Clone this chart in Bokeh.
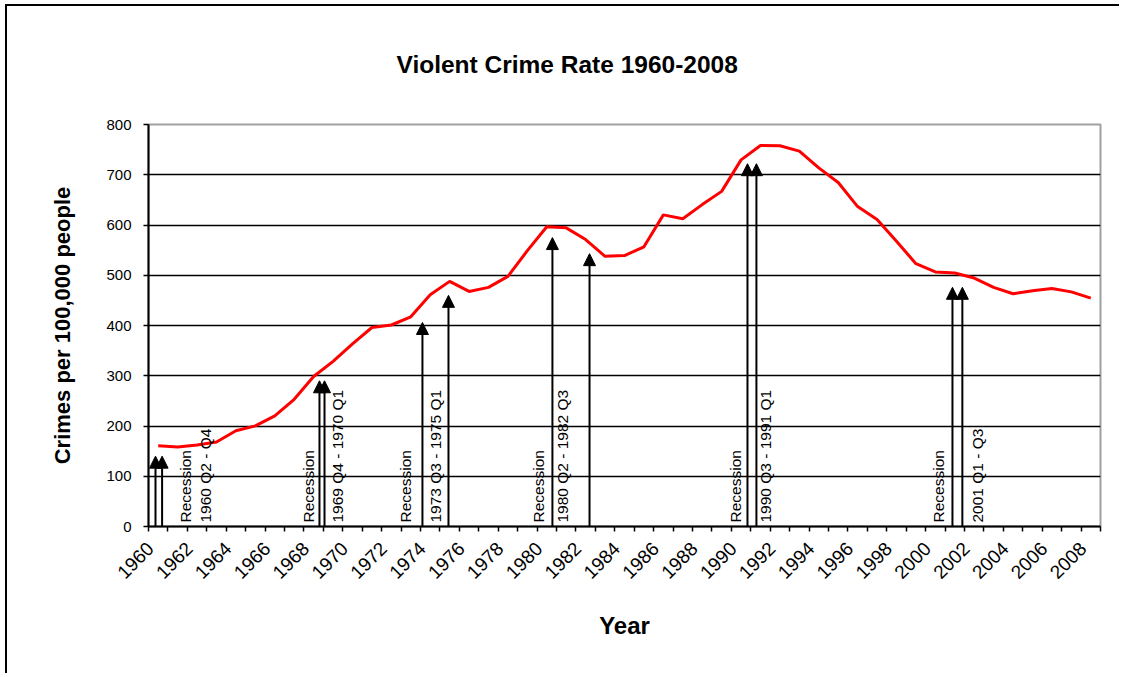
import math
from bokeh.plotting import figure
from bokeh.models import FixedTicker, Arrow, NormalHead, ColumnDataSource, Range1d, InlineStyleSheet
from bokeh.core.properties import value
from bokeh.embed import file_html
from bokeh.resources import INLINE

# ---- data ----
years = list(range(1960, 2009))
crime_rate = [160.9, 158.1, 162.3, 168.2, 190.6, 200.2, 220.0, 253.2, 298.4, 328.7,
              363.5, 396.0, 401.0, 417.4, 461.1, 487.8, 467.8, 475.9, 497.8, 548.9,
              596.6, 594.3, 571.1, 537.7, 539.2, 556.6, 620.1, 612.5, 640.6, 666.9,
              729.6, 758.2, 757.7, 747.1, 713.6, 684.5, 636.6, 611.0, 567.6, 523.0,
              506.5, 504.5, 494.4, 475.8, 463.2, 469.0, 473.6, 466.9, 454.5]
label_years = list(range(1960, 2009, 2))
year_tick_labels = [str(y) for y in label_years]

# recession arrows (fractional-year position, arrow tip value)
arrow_x = [1959.86, 1960.2, 1968.3, 1968.56, 1973.6, 1974.94,
           1980.29, 1982.2, 1990.33, 1990.79, 2000.88, 2001.39]
arrow_top = [140, 140, 290, 290, 406, 460, 575, 543, 722, 722, 476, 476]

# recession annotation texts
recession_word_x = [1961.40, 1967.73, 1972.73, 1979.57, 1989.71, 2000.16]
recession_range_x = [1962.43, 1969.23, 1974.27, 1980.81, 1991.25, 2002.17]
recession_ranges = ["1960 Q2 - Q4", "1969 Q4 - 1970 Q1", "1973 Q3 - 1975 Q1",
                    "1980 Q2 - 1982 Q3", "1990 Q3 - 1991 Q1", "2001 Q1 - Q3"]

FONT = "Liberation Sans"
LABEL_SHIFT = 0.4  # shift of rotated year labels (in years) so their ends sit like the original

p = figure(width=1114, height=669,
           x_range=Range1d(1959.5, 2008.5), y_range=Range1d(0, 800),
           output_backend="svg", toolbar_location=None,
           title="Violent Crime Rate 1960-2008",
           min_border_left=141, min_border_right=21,
           min_border_top=118, min_border_bottom=149)
p.stylesheets = [InlineStyleSheet(css=":host { border-top: 2px solid black; border-left: 2px solid black; margin-left: 5px; margin-top: 4px; }")]
p.background_fill_color = "white"
p.border_fill_color = "white"
p.outline_line_color = "#a0a0a0"
p.outline_line_width = 2

# title
p.title.text_font = FONT
p.title.text_font_size = "24.5px"
p.title.text_font_style = "bold"
p.title.text_color = "black"
p.title.align = "left"
p.title.offset = 248
p.title.vertical_align = "top"
p.title.standoff = 89

# grid
p.xgrid.visible = False
p.ygrid.ticker = FixedTicker(ticks=list(range(100, 800, 100)))
p.ygrid.grid_line_color = "black"
p.ygrid.grid_line_width = 1.5

# x axis
xa = p.xaxis[0]
tick_pos = [y - LABEL_SHIFT for y in label_years]
xa.ticker = FixedTicker(ticks=tick_pos, minor_ticks=[1959.5 + i for i in range(50)])
xa.major_label_overrides = {t: s for t, s in zip(tick_pos, year_tick_labels)}
xa.major_label_orientation = math.pi / 4
xa.major_tick_line_color = None
xa.major_tick_out = 0
xa.major_tick_in = 0
xa.minor_tick_line_color = "black"
xa.minor_tick_line_width = 1.5
xa.minor_tick_out = 5
xa.minor_tick_in = 0
xa.axis_line_color = "black"
xa.axis_line_width = 2
xa.major_label_text_font = FONT
xa.major_label_text_font_size = "19px"
xa.major_label_text_color = "black"
xa.major_label_standoff = 14
xa.axis_label = "Year"
xa.axis_label_text_font = FONT
xa.axis_label_text_font_size = "24px"
xa.axis_label_text_font_style = "bold"
xa.axis_label_text_color = "black"
xa.axis_label_standoff = 24

# y axis
ya = p.yaxis[0]
ya.ticker = FixedTicker(ticks=list(range(0, 900, 100)))
ya.major_tick_line_color = "black"
ya.major_tick_line_width = 1.5
ya.major_tick_out = 5
ya.major_tick_in = 0
ya.minor_tick_line_color = None
ya.axis_line_color = "black"
ya.axis_line_width = 2
ya.major_label_text_font = FONT
ya.major_label_text_font_size = "15px"
ya.major_label_text_color = "black"
ya.major_label_standoff = 12
ya.axis_label = "Crimes per 100,000 people"
ya.axis_label_text_font = FONT
ya.axis_label_text_font_size = "22px"
ya.axis_label_text_font_style = "bold"
ya.axis_label_text_color = "black"
ya.axis_label_standoff = 28

# crime rate line
p.line(years, crime_rate, line_color="#ff0000", line_width=3)

# recession arrows
arrow_src = ColumnDataSource(dict(x=arrow_x, y0=[0] * len(arrow_x), y1=arrow_top))
p.add_layout(Arrow(source=arrow_src, x_start="x", y_start="y0", x_end="x", y_end="y1",
                   line_color="black", line_width=2,
                   end=NormalHead(size=12, fill_color="black", line_color="black", line_width=1)))

# recession texts
word_src = ColumnDataSource(dict(x=recession_word_x, y=[0] * 6, t=["Recession"] * 6))
p.text(x="x", y="y", text="t", source=word_src, angle=math.pi / 2,
       text_align="left", text_baseline="middle", y_offset=-4,
       text_font=value(FONT), text_font_size="15.5px", text_color="black")
range_src = ColumnDataSource(dict(x=recession_range_x, y=[0] * 6, t=recession_ranges))
p.text(x="x", y="y", text="t", source=range_src, angle=math.pi / 2,
       text_align="left", text_baseline="middle", y_offset=-4,
       text_font=value(FONT), text_font_size="15.5px", text_color="black")

open("out.html", "w").write(file_html(p, INLINE))
